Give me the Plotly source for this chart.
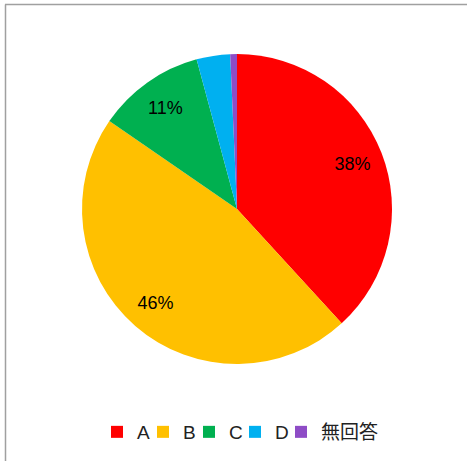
import plotly.graph_objects as go

categories = ["A", "B", "C", "D", "無回答"]
values = [38.2, 46.4, 11.2, 3.5, 0.7]
slice_text = ["38%", "46%", "11%", "", ""]
colors = ["#FF0000", "#FFC000", "#00B050", "#00B0F0", "#8E4CC6"]

W, H = 467, 461
cx, cy, r = 237, 209, 155
dom = dict(x=[(cx - r) / W, (cx + r) / W], y=[(H - cy - r) / H, (H - cy + r) / H])
font_fam = "Liberation Sans, Noto Sans CJK JP"

fig = go.Figure()
fig.add_trace(go.Pie(
    labels=categories,
    values=values,
    textinfo="none",
    marker=dict(colors=colors, line=dict(width=0)),
    sort=False,
    direction="clockwise",
    rotation=0,
    domain=dom,
))
# transparent ring used only to position the percentage labels further out
fig.add_trace(go.Pie(
    labels=categories,
    values=values,
    text=slice_text,
    texttemplate="%{text}",
    textposition="inside",
    insidetextorientation="horizontal",
    textfont=dict(size=18, color="black", family=font_fam),
    marker=dict(colors=["rgba(0,0,0,0)"] * len(values), line=dict(width=0)),
    sort=False,
    direction="clockwise",
    rotation=0,
    hole=0.6,
    domain=dom,
    showlegend=False,
    hoverinfo="skip",
))

fig.update_layout(
    width=W, height=H,
    margin=dict(l=0, r=0, t=0, b=0),
    paper_bgcolor="white",
    plot_bgcolor="white",
    showlegend=True,
    legend=dict(
        orientation="h", x=97 / W, xanchor="left", y=(H - 432) / H, yanchor="middle",
        font=dict(size=19, color="#222222", family=font_fam),
        itemwidth=30, entrywidth=1, entrywidthmode="pixels",
    ),
    shapes=[
        dict(type="line", xref="paper", yref="paper", x0=5 / W, x1=1.01, y0=(H - 4.5) / H, y1=(H - 4.5) / H,
             line=dict(color="#A0A0A0", width=1.5)),
        dict(type="line", xref="paper", yref="paper", x0=5.5 / W, x1=5.5 / W, y0=-0.01, y1=(H - 4.5) / H,
             line=dict(color="#A0A0A0", width=1.5)),
    ],
)

post = (
    "document.body.style.margin='0';"
    "document.querySelectorAll('.legend [clip-path]').forEach(function(e){e.removeAttribute('clip-path');});"
)
fig.write_html("out.html", post_script=post, config={"displayModeBar": False})
